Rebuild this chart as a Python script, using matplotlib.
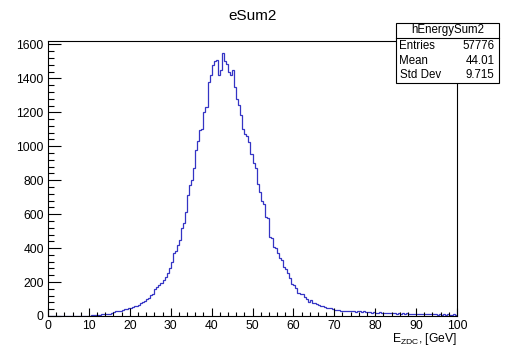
import numpy as np
import matplotlib
matplotlib.use("Agg")
import matplotlib.pyplot as plt
from matplotlib.ticker import MultipleLocator

plt.rcParams['font.family'] = ['Liberation Sans', 'DejaVu Sans']
plt.rcParams['mathtext.fontset'] = 'custom'
plt.rcParams['mathtext.rm'] = 'Liberation Sans'
plt.rcParams['mathtext.it'] = 'Liberation Sans'

title = "eSum2"
hist_name = "hEnergySum2"
x_label = r"E$_{\mathrm{ZDC}}$, [GeV]"
stat_labels = ["Entries", "Mean", "Std Dev"]
stat_values = ["57776", "44.01", "9.715"]

x_min, x_max, n_bins = 0.0, 100.0, 200
counts = [0] * 20 + [
    2, 3, 4, 5, 6, 8, 10, 9, 12, 14, 13, 18, 22, 28, 30, 27,
    36, 39, 42, 45, 50, 52, 58, 60, 66, 78, 82, 90, 98, 105, 123, 130,
    157, 170, 182, 195, 212, 230, 251, 280, 320, 369, 380, 418,
    447, 516, 545, 614, 712, 770, 800, 869, 976, 1029, 1094, 1100,
    1202, 1231, 1378, 1418, 1476, 1500, 1506, 1418, 1447, 1550, 1500, 1486,
    1437, 1422, 1447, 1349, 1280, 1241, 1186, 1104, 1075, 1060, 1025, 957,
    900, 870, 780, 731, 680, 660, 584, 575, 467, 457, 408, 400,
    369, 339, 329, 286, 275, 251, 222, 190, 182, 163, 137, 129,
    129, 110, 100, 84, 94, 78, 78, 71, 65, 59, 59, 55, 49, 45, 45, 40,
    35, 38, 33, 31, 30, 31, 28, 32, 27, 30, 26, 29, 28, 25, 27, 24,
    22, 25, 20, 23, 20, 18, 21, 19, 17, 19, 16, 18, 15, 17, 14, 16,
    13, 15, 12, 16, 12, 14, 11, 13, 12, 10, 13, 11, 10, 12, 9, 11,
    9, 11, 8, 10, 8, 10, 7, 9, 8, 7, 9, 6,
]
edges = np.linspace(x_min, x_max, n_bins + 1)

W, H = 508, 347
fig = plt.figure(figsize=(W / 100, H / 100), dpi=100)
L, R, T, B = 48, 457, 41, 316
ax = fig.add_axes([L / W, 1 - B / H, (R - L) / W, (B - T) / H])

ax.stairs(counts, edges, color='#3434c4', lw=0.9, baseline=0)
ax.set_xlim(x_min, x_max)
ax.set_ylim(0, 1620)

ax.xaxis.set_major_locator(MultipleLocator(10))
ax.xaxis.set_minor_locator(MultipleLocator(2))
ax.yaxis.set_major_locator(MultipleLocator(200))
ax.yaxis.set_minor_locator(MultipleLocator(40))
ax.tick_params(axis='x', which='major', direction='in', length=6, width=0.8,
               labelsize=8.7, pad=3, top=False)
ax.tick_params(axis='x', which='minor', direction='in', length=3, width=0.8, top=False)
ax.tick_params(axis='y', which='major', direction='in', length=9, width=0.8,
               labelsize=8.7, pad=3, right=False)
ax.tick_params(axis='y', which='minor', direction='in', length=4.5, width=0.8, right=False)
for s in ax.spines.values():
    s.set_linewidth(0.8)

fig.text(253 / W, 1 - 16 / H, title, ha='center', va='center', fontsize=11)
fig.text(R / W, 1 - 339 / H, x_label, ha='right', va='center', fontsize=8.7)

# stat box
bx0, bx1, by0, by1, byt = 396, 499, 23, 83, 37.5
box = plt.Rectangle((bx0 / W, 1 - by1 / H), (bx1 - bx0) / W, (by1 - by0) / H,
                    transform=fig.transFigure, facecolor='white',
                    edgecolor='black', lw=0.8, zorder=5)
fig.add_artist(box)
fig.add_artist(plt.Line2D([bx0 / W, bx1 / W], [1 - byt / H, 1 - byt / H],
                          transform=fig.transFigure, color='black', lw=0.8, zorder=6))
fig.text((bx0 + bx1) / 2 / W, 1 - 30.5 / H, hist_name, ha='center', va='center',
         fontsize=8.3, zorder=7)
row_y = [46, 60.5, 75]
for lab, val, yy in zip(stat_labels, stat_values, row_y):
    fig.text(399.5 / W, 1 - yy / H, lab, ha='left', va='center', fontsize=8.3, zorder=7)
    fig.text(494.5 / W, 1 - yy / H, val, ha='right', va='center', fontsize=8.3, zorder=7)

fig.savefig("out.png", dpi=100)
